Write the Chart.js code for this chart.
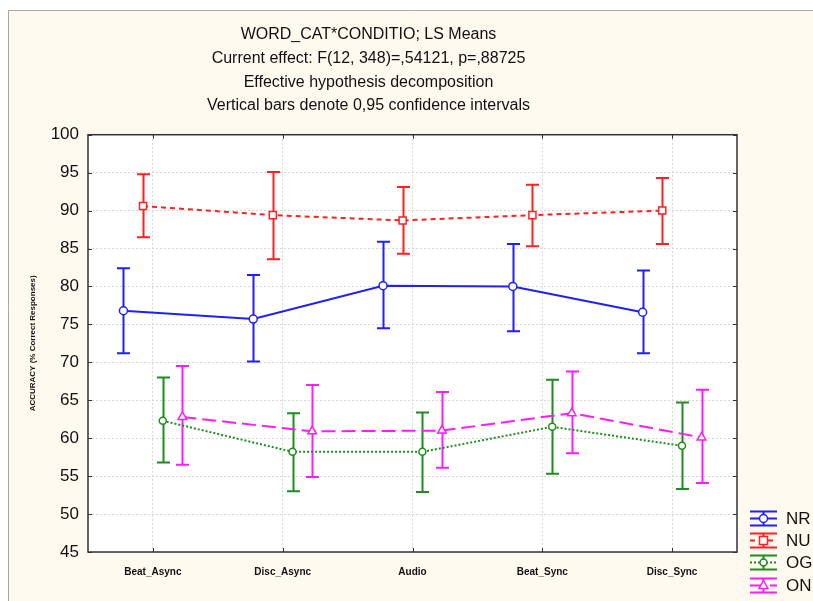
<!DOCTYPE html>
<html>
<head>
<meta charset="utf-8">
<script src="https://cdn.jsdelivr.net/npm/chart.js@4.4.1/dist/chart.umd.min.js"></script>
<style>
  html, body { margin: 0; padding: 0; background: #ffffff; }
  #caja { width: 813px; height: 601px; }
</style>
</head>
<body>
<div id="caja"><canvas id="myChart" width="813" height="601"></canvas></div>
<script>
const categorias = ["Beat_Async", "Disc_Async", "Audio", "Beat_Sync", "Disc_Sync"];
const ticksY = [45, 50, 55, 60, 65, 70, 75, 80, 85, 90, 95, 100];

// medias y limites del intervalo de confianza 0,95
const nrMedia = [76.8, 75.7, 80.1, 80.0, 76.6];
const nrInf = [71.2, 70.1, 74.5, 74.1, 71.2];
const nrSup = [82.4, 81.5, 85.9, 85.6, 82.1];

const nuMedia = [90.6, 89.4, 88.7, 89.4, 90.0];
const nuInf = [86.5, 83.6, 84.3, 85.3, 85.6];
const nuSup = [94.8, 95.1, 93.1, 93.4, 94.3];

const ogMedia = [62.3, 58.2, 58.2, 61.5, 59.0];
const ogInf = [56.8, 53.0, 52.9, 55.3, 53.3];
const ogSup = [68.0, 63.3, 63.4, 67.7, 64.7];

const onMedia = [62.8, 60.9, 61.0, 63.3, 60.1];
const onInf = [56.5, 54.9, 56.1, 58.0, 54.1];
const onSup = [69.5, 67.0, 66.1, 68.8, 66.4];

const titulo = [
  "WORD_CAT*CONDITIO; LS Means",
  "Current effect: F(12, 348)=,54121, p=,88725",
  "Effective hypothesis decomposition",
  "Vertical bars denote 0,95 confidence intervals",
];

// desplazamiento de cada serie dentro de la categoria
const desplazamientos = [-0.227, -0.076, 0.076, 0.227];

function puntos(medias, d) {
  return medias.map((v, i) => ({ x: i + d, y: v }));
}

function serie(nombre, medias, inf, sup, d, color, dash, estilo, radio) {
  return {
    label: nombre,
    data: puntos(medias, d),
    inferior: inf,
    superior: sup,
    borderColor: color,
    backgroundColor: "#ffffff",
    borderWidth: 2,
    borderDash: dash,
    pointStyle: estilo,
    pointRadius: radio,
    pointBorderWidth: 1.5,
    pointBorderColor: color,
    pointBackgroundColor: "#ffffff",
    tension: 0,
    fill: false,
  };
}

const fondo = {
  id: "fondo",
  beforeDraw(chart) {
    const ctx = chart.ctx;
    const a = chart.chartArea;
    ctx.save();
    ctx.fillStyle = "#ffffff";
    ctx.fillRect(0, 0, chart.width, chart.height);
    ctx.fillStyle = "#fffaef";
    ctx.fillRect(8, 10, chart.width, chart.height);
    ctx.strokeStyle = "#a8a8a8";
    ctx.lineWidth = 1;
    ctx.beginPath();
    ctx.moveTo(8.5, chart.height);
    ctx.lineTo(8.5, 10.5);
    ctx.lineTo(chart.width, 10.5);
    ctx.stroke();
    ctx.fillStyle = "#ffffff";
    ctx.fillRect(a.left, a.top, a.right - a.left, a.bottom - a.top);
    ctx.restore();
  },
};

const barrasError = {
  id: "barrasError",
  beforeDatasetsDraw(chart) {
    const ctx = chart.ctx;
    const sx = chart.scales.x;
    const sy = chart.scales.y;
    ctx.save();
    chart.data.datasets.forEach((ds) => {
      ctx.strokeStyle = ds.borderColor;
      ctx.lineWidth = 2;
      ctx.setLineDash([]);
      ds.data.forEach((p, i) => {
        const x = Math.round(sx.getPixelForValue(p.x)) + 0.5;
        const y1 = sy.getPixelForValue(ds.inferior[i]);
        const y2 = sy.getPixelForValue(ds.superior[i]);
        ctx.beginPath();
        ctx.moveTo(x, y1);
        ctx.lineTo(x, y2);
        ctx.moveTo(x - 6.5, y1);
        ctx.lineTo(x + 6.5, y1);
        ctx.moveTo(x - 6.5, y2);
        ctx.lineTo(x + 6.5, y2);
        ctx.stroke();
      });
    });
    ctx.restore();
  },
};

const marco = {
  id: "marco",
  afterDatasetsDraw(chart) {
    const ctx = chart.ctx;
    const a = chart.chartArea;
    const sx = chart.scales.x;
    const sy = chart.scales.y;
    ctx.save();
    ctx.strokeStyle = "#333333";
    ctx.lineWidth = 1.5;
    ctx.strokeRect(a.left, a.top, a.right - a.left, a.bottom - a.top);
    ctx.lineWidth = 1;
    ctx.beginPath();
    sx.ticks.forEach((t) => {
      const x = Math.round(sx.getPixelForValue(t.value)) + 0.5;
      ctx.moveTo(x, a.bottom);
      ctx.lineTo(x, a.bottom - 4);
      ctx.moveTo(x, a.top);
      ctx.lineTo(x, a.top + 4);
    });
    sy.ticks.forEach((t) => {
      const y = Math.round(sy.getPixelForValue(t.value)) + 0.5;
      ctx.moveTo(a.left, y);
      ctx.lineTo(a.left + 4, y);
      ctx.moveTo(a.right, y);
      ctx.lineTo(a.right - 4, y);
    });
    ctx.stroke();
    ctx.restore();
  },
};

function dibujarMarcador(ctx, estilo, r, x, y) {
  ctx.beginPath();
  if (estilo === "rect") {
    ctx.rect(x - r * 0.8, y - r * 0.8, r * 1.6, r * 1.6);
  } else if (estilo === "triangle") {
    ctx.moveTo(x, y - r);
    ctx.lineTo(x + r * 0.9, y + r * 0.6);
    ctx.lineTo(x - r * 0.9, y + r * 0.6);
    ctx.closePath();
  } else {
    ctx.arc(x, y, r, 0, Math.PI * 2);
  }
  ctx.fill();
  ctx.stroke();
}

const leyenda = {
  id: "leyenda",
  afterDraw(chart) {
    const ctx = chart.ctx;
    const filas = [518, 540, 562, 585];
    ctx.save();
    chart.data.datasets.forEach((ds, i) => {
      const y = filas[i] + 0.5;
      const xc = 763.5;
      ctx.strokeStyle = ds.borderColor;
      ctx.lineWidth = 2;
      ctx.setLineDash(ds.borderDash || []);
      ctx.beginPath();
      ctx.moveTo(750, y);
      ctx.lineTo(777, y);
      ctx.stroke();
      ctx.setLineDash([]);
      ctx.beginPath();
      ctx.moveTo(xc, y - 7);
      ctx.lineTo(xc, y + 7);
      ctx.moveTo(750, y - 7);
      ctx.lineTo(777, y - 7);
      ctx.moveTo(750, y + 7);
      ctx.lineTo(777, y + 7);
      ctx.stroke();
      ctx.fillStyle = "#ffffff";
      ctx.lineWidth = 1.5;
      dibujarMarcador(ctx, ds.pointStyle, ds.pointRadius, xc, y);
      ctx.fillStyle = "#111111";
      ctx.font = "17px 'Liberation Sans', Arial, sans-serif";
      ctx.textBaseline = "middle";
      ctx.textAlign = "left";
      ctx.fillText(ds.label, 786, y + 1);
    });
    ctx.restore();
  },
};

function iniciarGrafica() {
  const ctx = document.getElementById("myChart").getContext("2d");
  new Chart(ctx, {
    type: "line",
    data: {
      datasets: [
        serie("NR", nrMedia, nrInf, nrSup, desplazamientos[0], "#1f1fff", [], "circle", 4),
        serie("NU", nuMedia, nuInf, nuSup, desplazamientos[1], "#ff2020", [5, 4], "rect", 5),
        serie("OG", ogMedia, ogInf, ogSup, desplazamientos[2], "#1e8c1e", [2, 2], "circle", 3.5),
        serie("ON", onMedia, onInf, onSup, desplazamientos[3], "#ff1aff", [14, 6], "triangle", 5),
      ],
    },
    options: {
      responsive: false,
      devicePixelRatio: 1,
      animation: false,
      layout: { padding: { left: 0, right: 76, top: 0, bottom: 0 } },
      scales: {
        x: {
          type: "linear",
          min: -0.5,
          max: 4.5,
          afterBuildTicks: (s) => {
            s.ticks = categorias.map((c, i) => ({ value: i }));
          },
          afterFit: (s) => {
            s.height = 49;
          },
          grid: { color: "#d6d6d6", drawTicks: false },
          border: { display: false, dash: [2, 2] },
          ticks: {
            padding: 14,
            color: "#111111",
            font: { family: "'Liberation Sans', Arial, sans-serif", size: 10, weight: "bold" },
            maxRotation: 0,
            callback: (v) => categorias[v],
          },
        },
        y: {
          min: 45,
          max: 100,
          afterBuildTicks: (s) => {
            s.ticks = ticksY.map((v) => ({ value: v }));
          },
          afterFit: (s) => {
            s.width = 88;
          },
          grid: { color: "#d6d6d6", drawTicks: false },
          border: { display: false, dash: [2, 2] },
          ticks: {
            padding: 9,
            color: "#111111",
            font: { family: "'Liberation Sans', Arial, sans-serif", size: 17 },
          },
          title: {
            display: true,
            text: "ACCURACY (% Correct Responses)",
            color: "#111111",
            padding: { top: 28, bottom: 0 },
            font: { family: "'Liberation Sans', Arial, sans-serif", size: 8, weight: "bold" },
          },
        },
      },
      plugins: {
        legend: { display: false },
        tooltip: { enabled: false },
        title: {
          display: true,
          text: titulo,
          color: "#111111",
          padding: { top: 23, bottom: 17 },
          font: { family: "'Liberation Sans', Arial, sans-serif", size: 16, weight: "normal", lineHeight: 1.48 },
        },
      },
    },
    plugins: [fondo, barrasError, marco, leyenda],
  });
}

document.addEventListener("DOMContentLoaded", function () {
  iniciarGrafica();
});
</script>
</body>
</html>
